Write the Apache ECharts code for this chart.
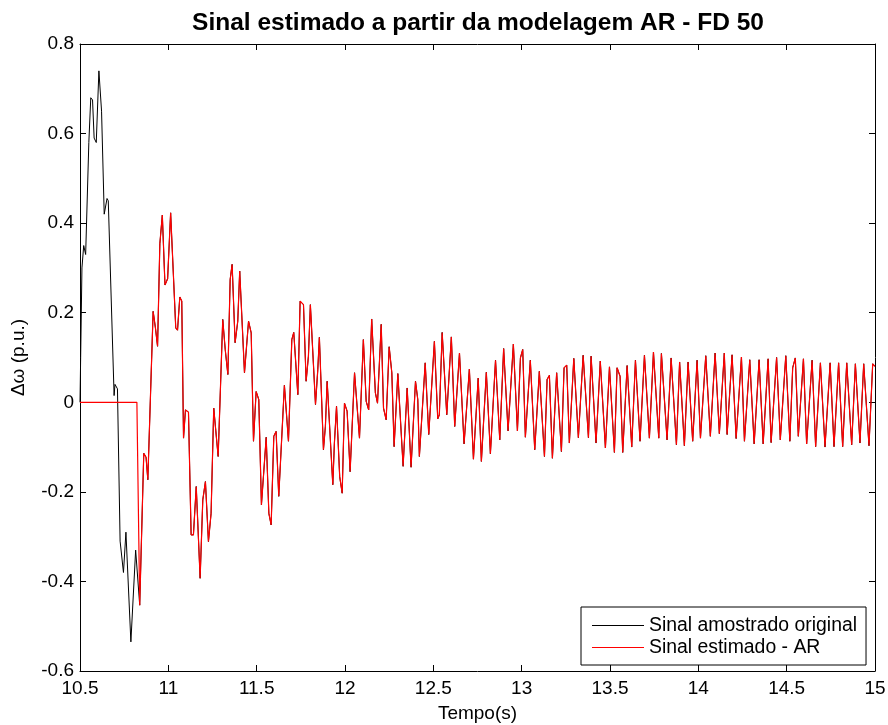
<!DOCTYPE html>
<html>
<head>
<meta charset="utf-8">
<script src="https://cdn.jsdelivr.net/npm/echarts@6/dist/echarts.min.js"></script>
<style>
  html, body { margin: 0; padding: 0; background: #fff; }
  #chart { width: 888px; height: 725px; }
</style>
</head>
<body>
<div id="chart"></div>
<script>
// Original sampled signal, part before the AR estimate starts (s, p.u.)
const tempoInicial = [10.500, 10.511, 10.521, 10.532, 10.550, 10.561, 10.571, 10.580, 10.592, 10.607,
  10.622, 10.637, 10.653, 10.660, 10.693, 10.698, 10.712, 10.727, 10.746, 10.760, 10.788, 10.815];
const sinalInicial = [0.000, 0.300, 0.350, 0.330, 0.580, 0.680, 0.675, 0.590, 0.580, 0.740,
  0.650, 0.420, 0.455, 0.450, 0.015, 0.040, 0.030, -0.310, -0.380, -0.290, -0.535, -0.330];

// AR estimate output is held at zero until the model starts predicting
const tempoZeroAR = [10.500, 10.822];
const sinalZeroAR = [0, 0];

// Segment shared by both curves (the estimate follows the sampled signal)
const tempoComum = [
  10.838, 10.861, 10.874, 10.884, 10.914, 10.927, 10.939, 10.952, 10.966, 10.981,
  10.996, 11.013, 11.042, 11.052, 11.065, 11.076, 11.086, 11.097, 11.114, 11.129,
  11.142, 11.158, 11.180, 11.195, 11.210, 11.227, 11.242, 11.257, 11.282, 11.308,
  11.322, 11.337, 11.350, 11.361, 11.378, 11.393, 11.404, 11.431, 11.454, 11.469,
  11.482, 11.497, 11.512, 11.527, 11.554, 11.569, 11.582, 11.597, 11.610, 11.625,
  11.657, 11.680, 11.699, 11.710, 11.733, 11.746, 11.765, 11.780, 11.793, 11.804,
  11.833, 11.846, 11.855, 11.878, 11.889, 11.899, 11.931, 11.940, 11.952, 11.970,
  11.984, 11.997, 12.012, 12.029, 12.054, 12.082, 12.104, 12.120, 12.134, 12.151,
  12.172, 12.184, 12.205, 12.218, 12.233, 12.250, 12.265, 12.278, 12.299, 12.329,
  12.352, 12.374, 12.380, 12.399, 12.412, 12.421, 12.454, 12.474, 12.506, 12.525,
  12.534, 12.550, 12.576, 12.602, 12.621, 12.648, 12.674, 12.704, 12.727, 12.754,
  12.772, 12.800, 12.823, 12.852, 12.876, 12.898, 12.923, 12.953, 12.976, 12.993,
  13.006, 13.021, 13.049, 13.074, 13.100, 13.129, 13.144, 13.157, 13.174, 13.198,
  13.225, 13.240, 13.255, 13.270, 13.295, 13.321, 13.348, 13.378, 13.393, 13.421,
  13.445, 13.474, 13.497, 13.525, 13.540, 13.557, 13.572, 13.597, 13.623, 13.644,
  13.670, 13.695, 13.723, 13.746, 13.776, 13.791, 13.823, 13.846, 13.876, 13.894,
  13.921, 13.942, 13.968, 13.993, 14.012, 14.042, 14.068, 14.095, 14.119, 14.147,
  14.163, 14.191, 14.214, 14.244, 14.261, 14.291, 14.316, 14.344, 14.367, 14.395,
  14.412, 14.443, 14.464, 14.495, 14.518, 14.534, 14.549, 14.566, 14.595, 14.613,
  14.644, 14.664, 14.691, 14.717, 14.746, 14.768, 14.794, 14.817, 14.840, 14.868,
  14.889, 14.915, 14.936, 14.966, 14.987, 15.000
];
const sinalComum = [
  -0.453, -0.114, -0.123, -0.173, 0.203, 0.166, 0.125, 0.354, 0.418, 0.262,
  0.276, 0.423, 0.166, 0.161, 0.235, 0.226, -0.080, -0.017, -0.022, -0.296,
  -0.296, -0.188, -0.393, -0.218, -0.177, -0.311, -0.248, -0.013, -0.121, 0.185,
  0.118, 0.062, 0.274, 0.308, 0.133, 0.181, 0.293, 0.066, 0.181, 0.155,
  -0.087, 0.024, 0.006, -0.229, -0.078, -0.248, -0.274, -0.076, -0.065, -0.210,
  0.038, -0.087, 0.140, 0.156, 0.017, 0.226, 0.218, 0.047, 0.103, 0.218,
  -0.005, 0.073, 0.145, -0.106, -0.054, 0.047, -0.184, -0.091, -0.009, -0.166,
  -0.203, -0.002, -0.020, -0.155, 0.066, -0.080, 0.140, 0.002, -0.017, 0.186,
  0.021, -0.002, 0.174, -0.013, -0.039, 0.124, 0.066, -0.099, 0.064, -0.143,
  0.032, -0.145, -0.147, 0.047, 0.006, -0.121, 0.088, -0.072, 0.136, -0.037,
  -0.028, 0.156, -0.028, 0.146, -0.054, 0.110, -0.093, 0.074, -0.127, 0.054,
  -0.132, 0.067, -0.115, 0.094, -0.084, 0.120, -0.064, 0.130, -0.064, 0.099,
  0.118, -0.078, 0.094, -0.106, 0.069, -0.121, 0.051, 0.060, -0.125, 0.066,
  -0.110, 0.077, 0.083, -0.091, 0.098, -0.079, 0.105, -0.079, 0.103, -0.091,
  0.092, -0.102, 0.079, -0.112, 0.077, 0.058, -0.112, 0.082, -0.100, 0.094,
  -0.087, 0.105, -0.080, 0.112, -0.080, 0.109, -0.084, 0.099, -0.095, 0.090,
  -0.097, 0.090, -0.087, 0.094, -0.080, 0.104, -0.076, 0.110, -0.070, 0.110,
  -0.072, 0.106, -0.081, 0.101, -0.087, 0.095, -0.093, 0.095, -0.093, 0.097,
  -0.090, 0.100, -0.084, 0.104, -0.087, 0.077, 0.099, -0.076, 0.097, -0.093,
  0.094, -0.099, 0.088, -0.100, 0.088, -0.099, 0.088, -0.099, 0.088, -0.095,
  0.086, -0.091, 0.086, -0.097, 0.086, 0.080
];

const nomesSeries = ['Sinal amostrado original', 'Sinal estimado - AR'];
const tituloGrafico = 'Sinal estimado a partir da modelagem AR - FD 50';
const rotuloX = 'Tempo(s)';
const rotuloY = '\u0394\u03c9 (p.u.)';

const pares = (ts, vs) => ts.map((t, i) => [t, vs[i]]);
const serieOriginal = pares(tempoInicial, sinalInicial).concat(pares(tempoComum, sinalComum));
const serieEstimada = pares(tempoZeroAR, sinalZeroAR).concat(pares(tempoComum, sinalComum));

const fonte = '"Liberation Sans", Arial, Helvetica, sans-serif';
const tickStyle = { show: true, inside: true, length: 6, lineStyle: { color: '#000', width: 1 } };
const lineStyleEixo = { show: true, onZero: false, lineStyle: { color: '#000', width: 1 } };

const chart = echarts.init(document.getElementById('chart'), null, { renderer: 'canvas' });
chart.setOption({
  animation: false,
  backgroundColor: '#fff',
  textStyle: { fontFamily: fonte, color: '#000' },
  title: {
    text: tituloGrafico,
    left: 473,
    top: 6,
    textAlign: 'center',
    textStyle: { fontFamily: fonte, fontSize: 24.5, fontWeight: 'bold', color: '#000' }
  },
  grid: { left: 80, right: 13, top: 44, bottom: 54, containLabel: false, outerBoundsMode: 'none' },
  legend: {
    orient: 'vertical',
    left: 581,
    top: 607,
    padding: [9, 9, 8, 11],
    itemGap: 3,
    itemWidth: 52,
    itemHeight: 1.2,
    itemTextGap: 8,
    icon: 'rect',
    backgroundColor: '#fff',
    borderColor: '#000',
    borderWidth: 1,
    borderRadius: 0,
    textStyle: { fontFamily: fonte, fontSize: 19.4, color: '#000', lineHeight: 19 },
    data: nomesSeries
  },
  xAxis: [
    {
      type: 'value', min: 10.5, max: 15, interval: 0.5, position: 'bottom',
      name: rotuloX, nameLocation: 'middle', nameGap: 33,
      nameTextStyle: { fontFamily: fonte, fontSize: 19, color: '#000' },
      axisLine: lineStyleEixo, axisTick: tickStyle,
      axisLabel: { fontFamily: fonte, fontSize: 19, color: '#000', margin: 8 },
      splitLine: { show: false }
    },
    {
      type: 'value', min: 10.5, max: 15, interval: 0.5, position: 'top',
      axisLine: lineStyleEixo, axisTick: tickStyle,
      axisLabel: { show: false }, splitLine: { show: false }
    }
  ],
  yAxis: [
    {
      type: 'value', min: -0.6, max: 0.8, interval: 0.2, position: 'left',
      name: rotuloY, nameLocation: 'middle', nameGap: 52, nameRotate: 90,
      nameTextStyle: { fontFamily: fonte, fontSize: 19, color: '#000' },
      axisLine: lineStyleEixo, axisTick: tickStyle,
      axisLabel: { fontFamily: fonte, fontSize: 19, color: '#000', margin: 6 },
      splitLine: { show: false }
    },
    {
      type: 'value', min: -0.6, max: 0.8, interval: 0.2, position: 'right',
      axisLine: lineStyleEixo, axisTick: tickStyle,
      axisLabel: { show: false }, splitLine: { show: false }
    }
  ],
  series: [
    {
      name: nomesSeries[0], type: 'line', data: serieOriginal,
      xAxisIndex: 0, yAxisIndex: 0,
      showSymbol: false, symbol: 'none',
      lineStyle: { color: '#000', width: 1 }, itemStyle: { color: '#000' },
      emphasis: { disabled: true }, z: 2
    },
    {
      name: nomesSeries[1], type: 'line', data: serieEstimada,
      xAxisIndex: 0, yAxisIndex: 0,
      showSymbol: false, symbol: 'none',
      lineStyle: { color: '#ff0000', width: 1.2 }, itemStyle: { color: '#ff0000' },
      emphasis: { disabled: true }, z: 3
    }
  ]
});
</script>
</body>
</html>
